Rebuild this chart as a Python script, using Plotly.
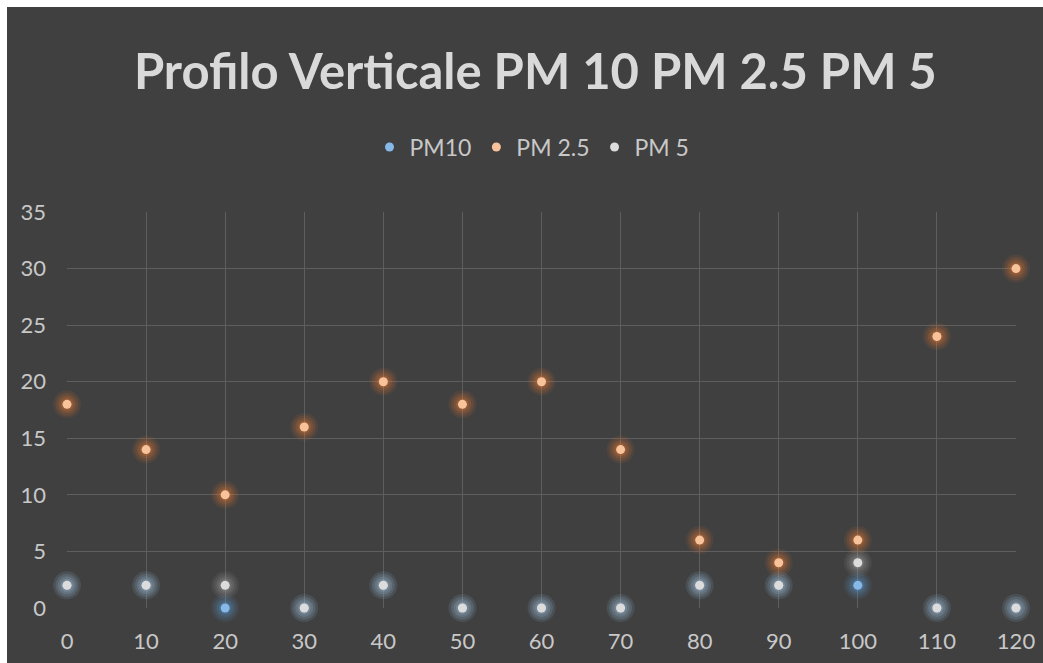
import plotly.graph_objects as go

heights = [0, 10, 20, 30, 40, 50, 60, 70, 80, 90, 100, 110, 120]
pm10 = [2, 2, 0, 0, 2, 0, 0, 0, 2, 2, 2, 0, 0]
pm25 = [18, 14, 10, 16, 20, 18, 20, 14, 6, 4, 6, 24, 30]
pm5 = [2, 2, 2, 0, 2, 0, 0, 0, 2, 2, 4, 0, 0]

series = [
    ("PM10", pm10, "#86b8e8", "#5B9BD5"),
    ("PM 2.5", pm25, "#f8c39b", "#ED7D31"),
    ("PM 5", pm5, "#dcdcdc", "#a5a5a5"),
]

BG = "#404040"
TXT = "#c8c8c8"
GRID = "#5e5e5e"

fig = go.Figure()
for name, vals, core, glow in series:
    for sz, op in [(28, 0.09), (23, 0.12), (18, 0.16), (13, 0.22)]:
        fig.add_trace(go.Scatter(
            x=heights, y=vals, mode="markers", showlegend=False, hoverinfo="skip",
            marker=dict(size=sz, color=glow, opacity=op, line=dict(width=0)),
            cliponaxis=False,
        ))
    fig.add_trace(go.Scatter(
        x=heights, y=vals, mode="markers", name=name,
        marker=dict(size=9, color=core, line=dict(width=0)),
        cliponaxis=False,
    ))

fig.update_layout(
    width=1036, height=656,
    paper_bgcolor=BG, plot_bgcolor=BG,
    margin=dict(l=60, r=27, t=205, b=55),
    title=dict(
        text="<b>Profilo Verticale PM 10 PM 2.5 PM 5</b>",
        font=dict(family="Lato, Open Sans, sans-serif", size=49, color="#d9d9d9"),
        x=0.51, xanchor="center", xref="container",
        y=(656 - 65) / 656, yanchor="middle", yref="container",
    ),
    legend=dict(
        orientation="h", x=0.49, xanchor="center", y=1.164, yanchor="middle",
        font=dict(family="Lato, Open Sans, sans-serif", size=23, color=TXT),
        bgcolor="rgba(0,0,0,0)", itemsizing="trace",
    ),
    font=dict(family="Lato, Open Sans, sans-serif", color=TXT),
)
fig.update_xaxes(
    range=[0, 120], dtick=10, tick0=0, showgrid=True, gridcolor=GRID, gridwidth=1,
    zeroline=False, showline=False, ticks="", ticklabelstandoff=18, automargin=False,
    tickfont=dict(size=22, color=TXT),
)
fig.update_yaxes(
    range=[0, 35], dtick=5, tick0=0, showgrid=True, gridcolor=GRID, gridwidth=1,
    zeroline=False, showline=False, ticks="", ticklabelstandoff=20, automargin=False,
    tickfont=dict(size=22, color=TXT),
)

fig.write_html("out.html", post_script="document.body.style.margin='7px 0 0 7px';document.body.style.overflow='hidden';")
